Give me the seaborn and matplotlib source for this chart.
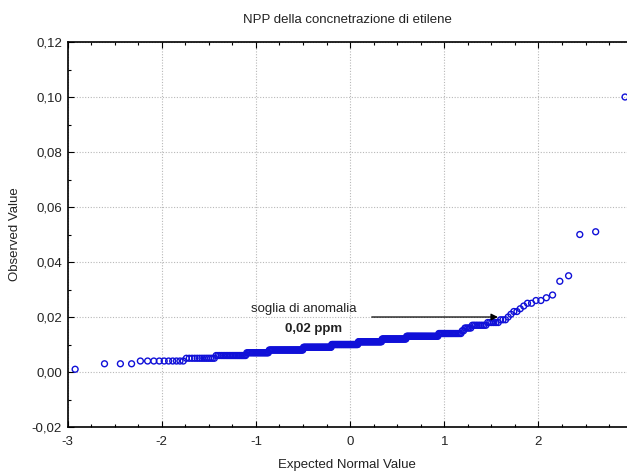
import numpy as np
import pandas as pd
import seaborn as sns
import matplotlib
matplotlib.use("Agg")
import matplotlib.pyplot as plt
import matplotlib.ticker as mticker
from statistics import NormalDist

# Observed ethylene concentrations (ppm): distinct levels and how many samples have each
levels = [0.001, 0.003, 0.004, 0.005, 0.006, 0.007, 0.008, 0.009, 0.010, 0.011,
          0.012, 0.013, 0.014, 0.015, 0.016, 0.017, 0.018,
          0.019, 0.020, 0.021, 0.022, 0.023, 0.024, 0.025, 0.026, 0.027, 0.028,
          0.033, 0.035, 0.050, 0.051, 0.100]
counts = [1, 3, 10, 13, 21, 21, 41, 40, 40, 35,
          33, 36, 20, 2, 5, 9, 6,
          3, 1, 1, 2, 1, 1, 2, 2, 1, 1,
          1, 1, 1, 1, 1]

title = "NPP della concnetrazione di etilene"
xlabel = "Expected Normal Value"
ylabel = "Observed Value"
x_ticks = [-3, -2, -1, 0, 1, 2]
y_ticks = [-0.02, 0.00, 0.02, 0.04, 0.06, 0.08, 0.10, 0.12]
threshold = 0.02
ann_text = "soglia di anomalia"
ann_value = "0,02 ppm"

observed = np.repeat(levels, counts)
n = len(observed)
nd = NormalDist()
expected = np.array([nd.inv_cdf((i - 0.375) / (n + 0.25)) for i in range(1, n + 1)])
df = pd.DataFrame({"expected": expected, "observed": observed})

sns.set_theme(style="white")
plt.rcParams["font.family"] = ["Liberation Sans", "DejaVu Sans"]

FS = 9.5
fig = plt.figure(figsize=(6.27, 4.72), dpi=100)
ax = fig.add_axes([0.1077, 0.0953, 0.8923, 0.8157])

sns.scatterplot(data=df, x="expected", y="observed", ax=ax, marker="o", s=18,
                facecolors="none", edgecolor="#1010d8", linewidth=1.0, zorder=3)

ax.set_xlim(-3, 2.94)
ax.set_ylim(-0.02, 0.12)
ax.set_xticks(x_ticks)
ax.set_yticks(y_ticks)
ax.xaxis.set_minor_locator(mticker.MultipleLocator(0.25))
ax.yaxis.set_minor_locator(mticker.MultipleLocator(0.01))
ax.yaxis.set_major_formatter(mticker.FuncFormatter(lambda v, p: f"{v:.2f}".replace(".", ",").replace("\u2212", "-")))
ax.xaxis.set_major_formatter(mticker.FuncFormatter(lambda v, p: f"{int(round(v))}"))

ax.grid(True, which="major", color="#b8b8b8", linestyle=(0, (1, 1.5)), linewidth=0.8)
for s in ["left", "top", "bottom"]:
    ax.spines[s].set_visible(True)
    ax.spines[s].set_color("black")
    ax.spines[s].set_linewidth(1.2)
ax.spines["right"].set_visible(False)

ax.tick_params(which="both", direction="in", top=True, right=False, left=True, bottom=True,
               colors="black", labelcolor="#222222", labelsize=FS)
ax.tick_params(which="major", length=4, width=0.8)
ax.tick_params(axis="x", which="major", pad=6.5)
ax.tick_params(axis="y", which="major", pad=4)
ax.tick_params(which="minor", length=2.5, width=0.8)

ax.set_xlabel(xlabel, fontsize=FS, color="#222222", labelpad=8)
ax.set_ylabel(ylabel, fontsize=FS, color="#222222", labelpad=8)
ax.set_title(title, fontsize=FS, color="#222222", pad=14)

ax.annotate("", xy=(1.57, threshold), xytext=(0.23, threshold),
            arrowprops=dict(arrowstyle="-|>", color="black", lw=0.9, mutation_scale=10,
                            shrinkA=0, shrinkB=0), zorder=4)
ax.text(-0.49, 0.0229, ann_text, ha="center", va="center", fontsize=FS, color="#222222")
ax.text(-0.39, 0.0156, ann_value, ha="center", va="center", fontsize=FS,
        fontweight="bold", color="#222222")

fig.savefig("out.png", dpi=100)
